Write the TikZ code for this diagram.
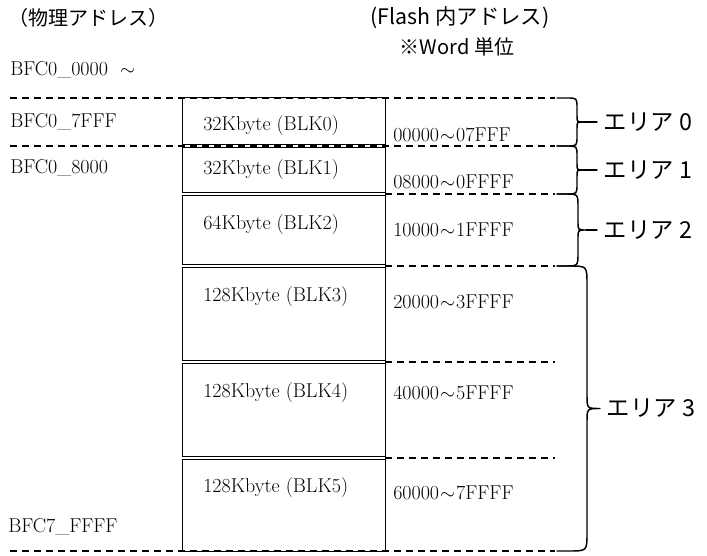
\documentclass[tikz,border=0pt]{standalone}
\usepackage{fontspec}
\newfontfamily\gothic{Noto Sans CJK JP}
\usetikzlibrary{positioning}

\tikzset{
  addr/.style={anchor=west, inner sep=0pt, font=\fontsize{15}{18}\selectfont},
  heading/.style={inner sep=0pt, font=\gothic\fontsize{15}{18}\selectfont},
  area/.style={anchor=west, inner sep=0pt, font=\gothic\fontsize{17.5}{20}\selectfont},
  guide/.style={dash pattern=on 5.5pt off 3.5pt, line width=1pt},
  frame/.style={line width=0.75pt},
  blkline/.style={double, double distance=1pt, line width=0.7pt},
  brace/.style={line width=1.1pt, line cap=round},
}
\newcommand{\wave}{\kern0.8pt$\sim$\kern0.8pt}

\begin{document}
\begin{tikzpicture}[x=0.75pt, y=-0.75pt]
    \useasboundingbox (0,0) rectangle (707,556);

    % Headings
    \node[heading, anchor=west] (phys) at (8,18) {（物理アドレス）};
    \node[heading, font=\gothic\fontsize{16}{18}\selectfont] (flash) at (460,18) {(Flash 内アドレス)};
    \node[heading] (unit) at (457,47) {※Word 単位};

    % Blocks
    \draw[frame] (182,98) rectangle (385,551);
    \foreach \y in {146,194,266,362,458}
        \draw[blkline] (182,\y) -- (385,\y);

    \foreach \y in {98,146,551}
        \draw[guide] (10,\y) -- (555,\y);
    \foreach \y in {194,266,362,458}
        \draw[guide] (385,\y) -- (555,\y);

    \node[addr] (blk0) at (203,126) {32Kbyte (BLK0)};
    \node[addr] (blk1) at (203,170) {32Kbyte (BLK1)};
    \node[addr] (blk2) at (203,225) {64Kbyte (BLK2)};
    \node[addr] (blk3) at (203,297) {128Kbyte (BLK3)};
    \node[addr] (blk4) at (203,393) {128Kbyte (BLK4)};
    \node[addr] (blk5) at (203,488) {128Kbyte (BLK5)};

    % Physical addresses
    \node[addr] (phys0) at (10,70) {BFC0\_0000 \ $\sim$};
    \node[addr] (phys1) at (10,122) {BFC0\_7FFF};
    \node[addr] (phys2) at (10,168) {BFC0\_8000};
    \node[addr] (phys3) at (8,527) {BFC7\_FFFF};

    % Flash addresses
    \node[addr] (flash0) at (393,135) {00000\wave 07FFF};
    \node[addr] (flash1) at (393,182) {08000\wave 0FFFF};
    \node[addr] (flash2) at (393,230) {10000\wave 1FFFF};
    \node[addr] (flash3) at (393,302) {20000\wave 3FFFF};
    \node[addr] (flash4) at (393,393) {40000\wave 5FFFF};
    \node[addr] (flash5) at (393,493) {60000\wave 7FFFF};

    % Areas
    \foreach \ya/\yb/\vx/\rc/\rt/\xt/\k in {
        98/146/577/10/6/597/0,
        146/194/577/10/6/597/1,
        194/266/578/13/8/597/2,
        266/551/587/18/13/600/3}{
      \pgfmathsetmacro\ym{(\ya+\yb)/2}
      \draw[brace] (557,\ya) -- (\vx-\rc,\ya) .. controls (\vx,\ya) .. (\vx,\ya+\rc)
          -- (\vx,\ym-\rt) .. controls (\vx,\ym) .. (\vx+\rt,\ym)
          .. controls (\vx,\ym) .. (\vx,\ym+\rt)
          -- (\vx,\yb-\rc) .. controls (\vx,\yb) .. (\vx-\rc,\yb) -- (557,\yb);
      \coordinate (tip\k) at (\xt,\ym);
      \draw[brace] (\vx+\rt,\ym) -- (tip\k);
      \node[area, right=5pt of tip\k] (area\k) {エリア \k};
    }
\end{tikzpicture}
\end{document}
